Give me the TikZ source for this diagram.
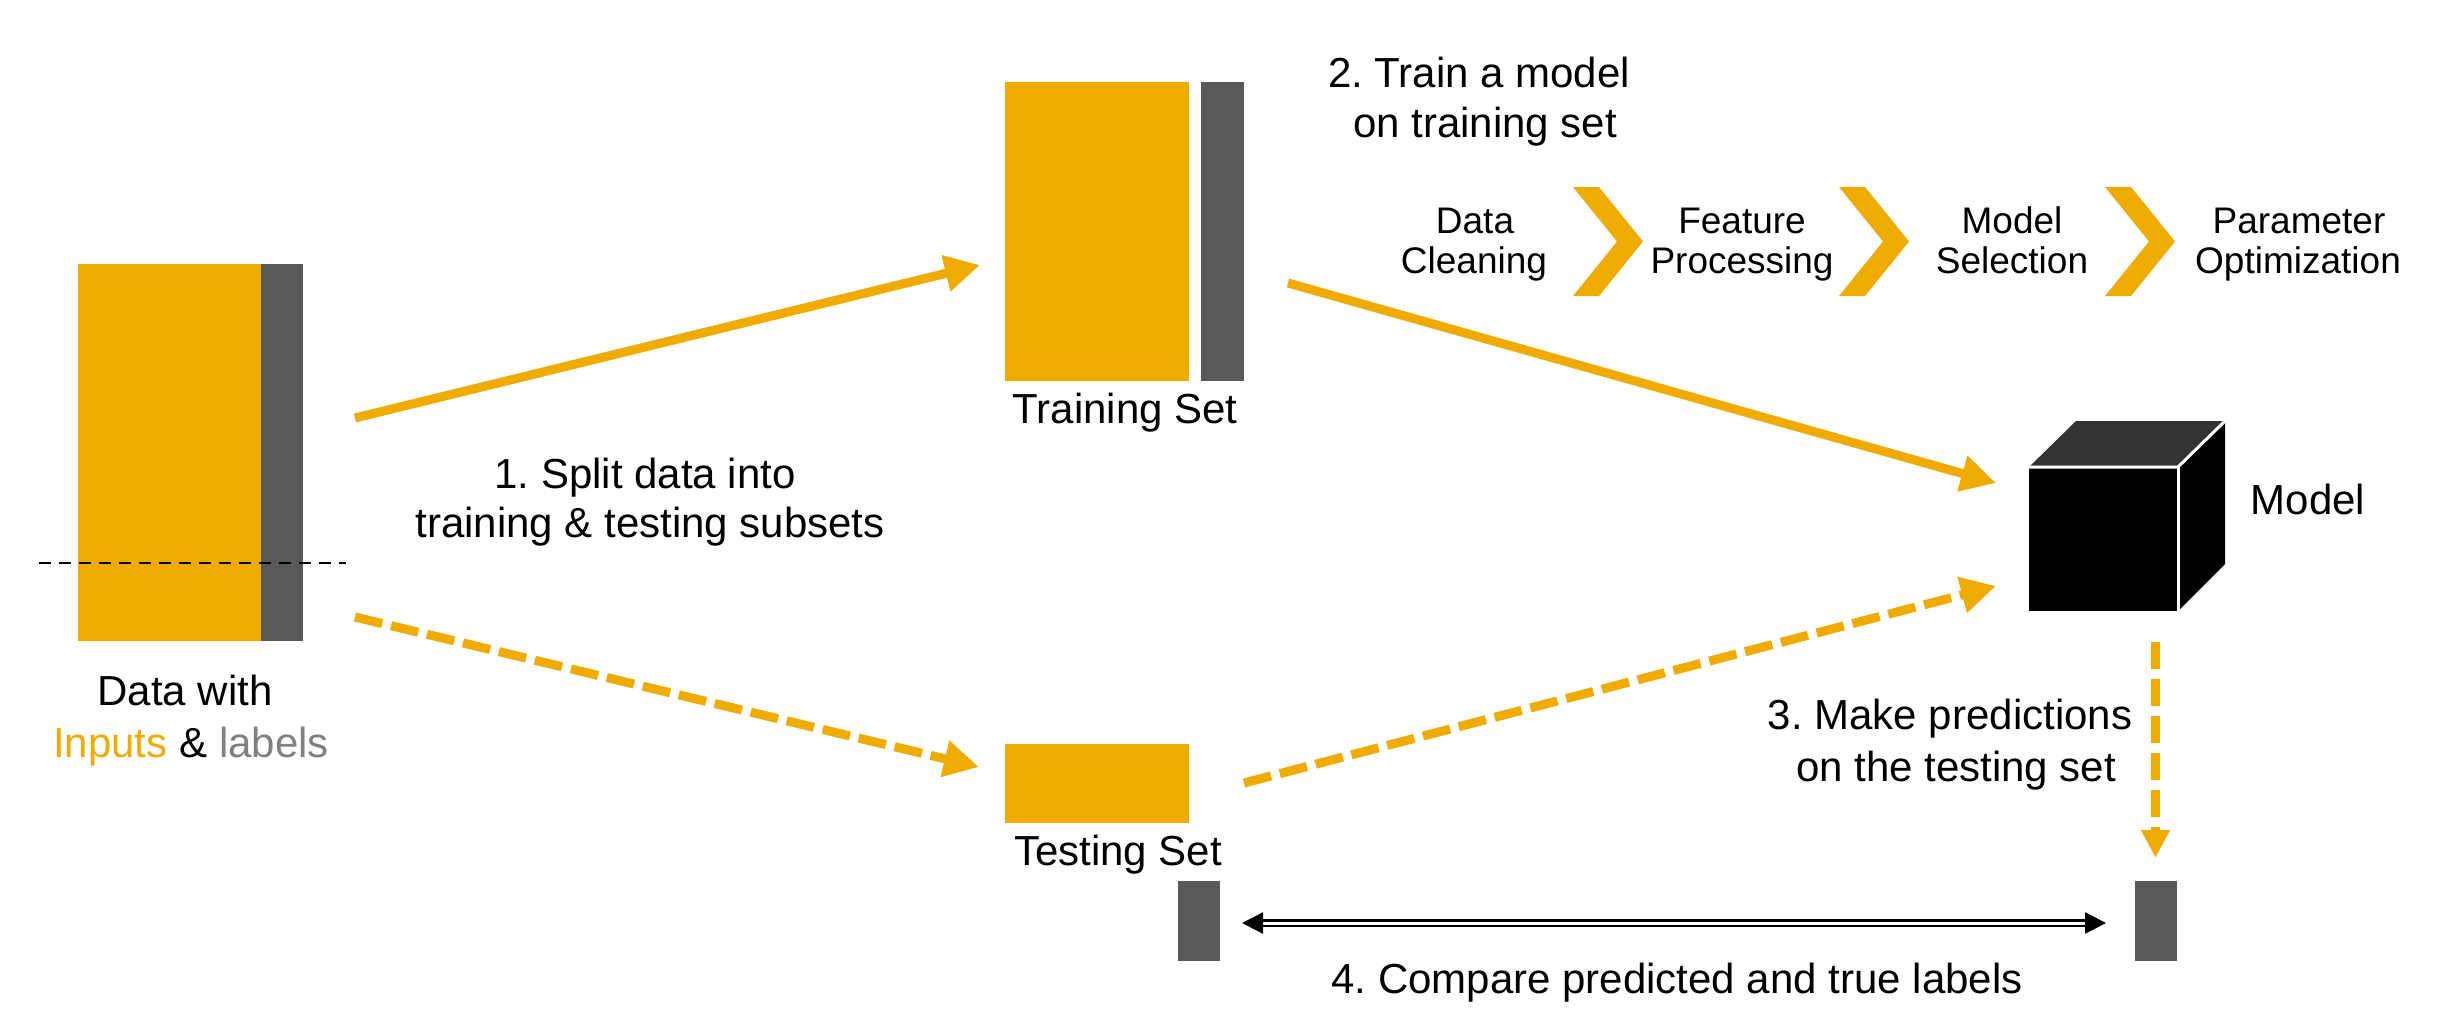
\documentclass[tikz,border=0pt]{standalone}
\usepackage{fontspec}
\setmainfont{Liberation Sans}
\usetikzlibrary{arrows.meta}
\definecolor{sap}{HTML}{F0AB00}
\definecolor{bargray}{HTML}{595959}
\definecolor{lblgray}{HTML}{808080}
\definecolor{cubetop}{HTML}{333333}
\frenchspacing
\begin{document}
\begin{tikzpicture}[x=1pt,y=-1pt,
  inbox/.style={fill=sap, draw=none, inner sep=0pt, anchor=north west},
  labbox/.style={fill=bargray, draw=none, inner sep=0pt, anchor=north west},
  bigtxt/.style={font=\fontsize{42}{50}\selectfont, inner sep=0pt, anchor=base},
  steptxt/.style={font=\fontsize{37}{40}\selectfont, inner sep=0pt, anchor=base},
  flow/.style={draw=sap, line width=9pt, -{Triangle[length=35pt,width=35pt]}},
  flowdash/.style={flow, dash pattern=on 28pt off 9pt},
  preddash/.style={draw=sap, line width=9pt, dash pattern=on 27pt off 10pt, -{Triangle[length=28pt,width=27pt]}},
  cmp/.style={draw=black, double=white, line width=2.5pt, double distance=3pt,
    {Triangle[length=21pt,width=21pt]}-{Triangle[length=21pt,width=21pt]}},
  chev/.style={fill=sap}
]
\useasboundingbox (0,0) rectangle (2438,1022);

% data set
\node[inbox, minimum width=183pt, minimum height=377pt] (din) at (78,264) {};
\node[labbox, minimum width=42pt, minimum height=377pt] (dlab) at (261,264) {};
\draw[black, line width=2.5pt, dash pattern=on 12pt off 8pt] (39,563) -- (346,563);
\node[bigtxt] (dt1) at (185,705) {Data with};
\node[bigtxt] (dt2) at (191,757) {\textcolor{sap}{Inputs} \& \textcolor{lblgray}{labels}};

% training set
\node[inbox, minimum width=184pt, minimum height=299pt] (trin) at (1005,82) {};
\node[labbox, minimum width=43pt, minimum height=299pt] (trlab) at (1201,82) {};
\node[bigtxt] (trt) at (1125,423) {Training Set};

% testing set
\node[inbox, minimum width=184pt, minimum height=79pt] (tein) at (1005,744) {};
\node[bigtxt] (tet) at (1118,865) {Testing Set};

% label bars
\node[labbox, minimum width=42pt, minimum height=80pt] (lbar) at (1178,881) {};
\node[labbox, minimum width=42pt, minimum height=80pt] (rbar) at (2135,881) {};

% step 1 text
\node[bigtxt] (s1a) at (645,488) {1. Split data into};
\node[bigtxt] (s1b) at (650,537) {training \& testing subsets};

% step 2 text
\node[bigtxt] (s2a) at (1479,88) {2. Train a model};
\node[bigtxt] (s2b) at (1485,138) {on training set};

% pipeline
\foreach \x in {1573,1839,2105}
  \fill[chev] (\x,187) -- (\x+26,187) -- (\x+70,241.5) -- (\x+26,296) -- (\x,296) -- (\x+44,241.5) -- cycle;
\node[steptxt] (p1a) at (1475,233) {Data};
\node[steptxt] (p1b) at (1474,273) {Cleaning};
\node[steptxt] (p2a) at (1742,233) {Feature};
\node[steptxt] (p2b) at (1742,273) {Processing};
\node[steptxt] (p3a) at (2012,233) {Model};
\node[steptxt] (p3b) at (2012,273) {Selection};
\node[steptxt] (p4a) at (2299,233) {Parameter};
\node[steptxt] (p4b) at (2298,273) {Optimization};

% model cube
\fill[black] (2029,467) -- (2178,467) -- (2178,611) -- (2029,611) -- cycle;
\fill[cubetop] (2029,467) -- (2076,421) -- (2225,421) -- (2178,467) -- cycle;
\fill[black] (2178,467) -- (2225,421) -- (2225,564) -- (2178,611) -- cycle;
\draw[white, line width=3pt] (2029,467) -- (2178,467) -- (2225,421);
\draw[white, line width=3pt] (2178,467) -- (2178,611);
\node[bigtxt] (mt) at (2308,514) {Model};

% step 3 and 4 text
\node[bigtxt] (s3a) at (1950,729) {3. Make predictions};
\node[bigtxt] (s3b) at (1956,781) {on the testing set};
\node[bigtxt] (s4) at (1677,993) {4. Compare predicted and true labels};

% connector end points
\coordinate (a1s) at (355,418);
\coordinate (a1e) at (980,265);
\coordinate (a2s) at (355,617);
\coordinate (a2e) at (979,767);
\coordinate (a3s) at (1288,283);
\coordinate (a3e) at (1996,483);
\coordinate (a4s) at (1244,783);
\coordinate (a4e) at (1996,586);
\coordinate (a5s) at (2155.5,642);
\coordinate (a5e) at (2155.5,858);
\coordinate (c4a) at (1242,923);
\coordinate (c4b) at (2106,923);

\draw[flow] (a1s) -- (a1e);
\draw[flowdash] (a2s) -- (a2e);
\draw[flow] (a3s) -- (a3e);
\draw[flowdash] (a4s) -- (a4e);
\draw[preddash] (a5s) -- (a5e);
\draw[cmp] (c4a) -- (c4b);
\end{tikzpicture}
\end{document}
